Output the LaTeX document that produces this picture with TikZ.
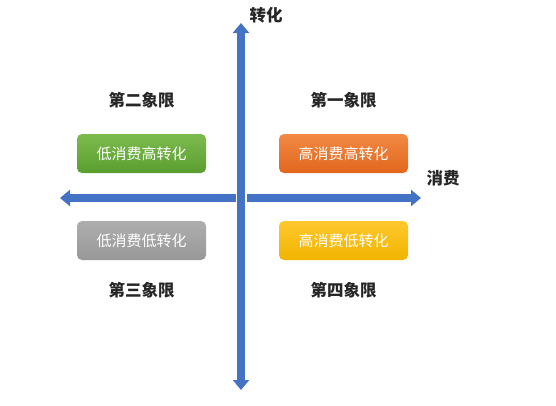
\documentclass[tikz,border=0pt]{standalone}
\usepackage{fontspec}
\usepackage{xcolor}
\usepackage{tikz}
\usetikzlibrary{arrows.meta, positioning}
\newfontfamily\cjk{Noto Sans CJK SC}
\definecolor{axisblue}{HTML}{4472C4}
\definecolor{labeltext}{HTML}{262626}
\definecolor{greentop}{HTML}{7DBB4E}
\definecolor{greenbot}{HTML}{5A9E30}
\definecolor{orangetop}{HTML}{F28A45}
\definecolor{orangebot}{HTML}{E2661C}
\definecolor{graytop}{HTML}{AEAEAE}
\definecolor{graybot}{HTML}{989898}
\definecolor{yellowtop}{HTML}{FFC82E}
\definecolor{yellowbot}{HTML}{F0B400}

\begin{document}
\begin{tikzpicture}[
        x=1pt, y=-1pt,
        box/.style = {rectangle, rounded corners=5pt, minimum width=129pt, minimum height=39pt, inner sep=0pt, font=\cjk\fontsize{15}{16}\selectfont, text=white},
        greenbox/.style = {box, top color=greentop, bottom color=greenbot},
        orangebox/.style = {box, top color=orangetop, bottom color=orangebot},
        graybox/.style = {box, top color=graytop, bottom color=graybot},
        yellowbox/.style = {box, top color=yellowtop, bottom color=yellowbot},
        quadlabel/.style = {inner sep=0pt, font=\cjk\bfseries\fontsize{16.5}{17}\selectfont, text=labeltext},
        axislabel/.style = {quadlabel},
        axis/.style = {draw=axisblue, line width=8pt, -{Triangle[width=16pt, length=10pt]}}
    ]
        \useasboundingbox (0,0) rectangle (556,405);

        % Axes
        \coordinate (o) at (241,198);
        \coordinate (xleft) at (60,198);
        \coordinate (xright) at (421,198);
        \coordinate (ytop) at (241,23);
        \coordinate (ybot) at (241,390);

        \draw [axis] (o) -- (xleft);
        \draw [axis] (o) -- (xright);
        \draw [white, line width=11pt] (ytop) -- (ybot);
        \draw [axis] (o) -- (ytop);
        \draw [axis] (o) -- (ybot);

        \node (ylabel) [axislabel] at (266,15) {转化};
        \node (xlabel) [axislabel] at (443,178) {消费};

        % Quadrant boxes
        \node (lowhigh) [greenbox] at (141.5,153.5) {低消费高转化};
        \node (highhigh) [orangebox] at (343.5,153.5) {高消费高转化};
        \node (lowlow) [graybox] at (141.5,240.5) {低消费低转化};
        \node (highlow) [yellowbox] at (343.5,240.5) {高消费低转化};

        % Quadrant labels
        \node (q2) [quadlabel, above=25pt of lowhigh] {第二象限};
        \node (q1) [quadlabel, above=25pt of highhigh] {第一象限};
        \node (q3) [quadlabel, below=22pt of lowlow] {第三象限};
        \node (q4) [quadlabel, below=22pt of highlow] {第四象限};

    \end{tikzpicture}
\end{document}
